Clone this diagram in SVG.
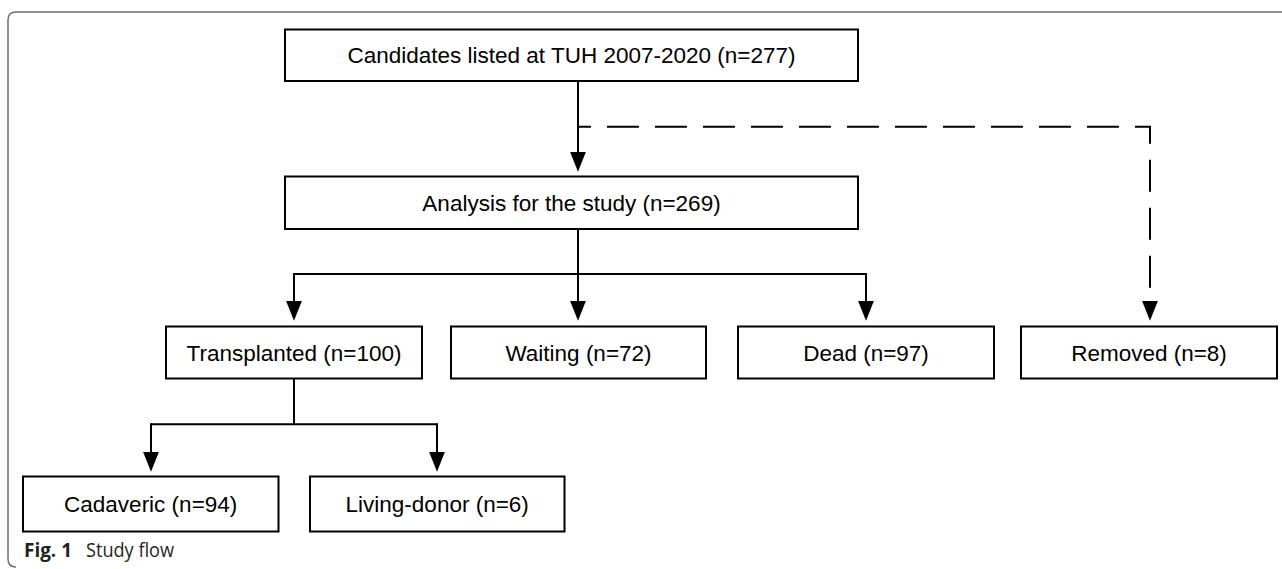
<svg xmlns="http://www.w3.org/2000/svg" width="1282" height="569" viewBox="0 0 1282 569">
<style>
.box{fill:#fff;stroke:#000;stroke-width:2}
.lbl{font-family:"Liberation Sans",Arial,sans-serif;font-size:22.5px;fill:#000;text-anchor:middle}
.ln{fill:none;stroke:#000;stroke-width:2}
.dash{fill:none;stroke:#000;stroke-width:2;stroke-dasharray:32 16;stroke-dashoffset:19}
.cap{font-family:"Open Sans","Noto Sans",sans-serif;font-size:20px;fill:#231f20}
</style>
<defs>
<marker id="ah" viewBox="0 0 20 16" markerWidth="20" markerHeight="16" refX="10" refY="8" orient="auto" markerUnits="userSpaceOnUse">
<path d="M0,0 L20,8 L0,16 z" fill="#000"/>
</marker>
</defs>
<rect width="1282" height="569" fill="#fff"/>
<path d="M1282,12 H16 Q8,12 8,20 V559 Q8,567 16,567" fill="none" stroke="#6f6f6f" stroke-width="1.5"/>
<g id="connectors">
<path class="ln" d="M578,81 V161.7" marker-end="url(#ah)"/>
<path class="dash" d="M578,126.7 H1150 V310.7" marker-end="url(#ah)"/>
<path class="ln" d="M578,229 V274"/>
<path class="ln" d="M294,274 H866"/>
<path class="ln" d="M294,273 V310.7" marker-end="url(#ah)"/>
<path class="ln" d="M578,273 V310.7" marker-end="url(#ah)"/>
<path class="ln" d="M866,273 V310.7" marker-end="url(#ah)"/>
<path class="ln" d="M294,378.5 V424.3"/>
<path class="ln" d="M151,424.3 H437"/>
<path class="ln" d="M151,423.3 V461.7" marker-end="url(#ah)"/>
<path class="ln" d="M437,423.3 V461.7" marker-end="url(#ah)"/>
</g>
<g id="n-candidates"><rect class="box" x="285" y="29.5" width="573" height="51.5"/><text class="lbl" x="571.5" y="63.3">Candidates listed at TUH 2007-2020 (n=277)</text></g>
<g id="n-analysis"><rect class="box" x="285" y="176.5" width="573" height="52.5"/><text class="lbl" x="571.5" y="210.8">Analysis for the study (n=269)</text></g>
<g id="n-transplanted"><rect class="box" x="166" y="326.5" width="256" height="52"/><text class="lbl" x="294" y="360.5">Transplanted (n=100)</text></g>
<g id="n-waiting"><rect class="box" x="451" y="326.5" width="255" height="52"/><text class="lbl" x="578.5" y="360.5">Waiting (n=72)</text></g>
<g id="n-dead"><rect class="box" x="738" y="326.5" width="256" height="52"/><text class="lbl" x="866" y="360.5">Dead (n=97)</text></g>
<g id="n-removed"><rect class="box" x="1021" y="326.5" width="256" height="52"/><text class="lbl" x="1149" y="360.5">Removed (n=8)</text></g>
<g id="n-cadaveric"><rect class="box" x="23" y="476.5" width="255.5" height="55"/><text class="lbl" x="150.7" y="512">Cadaveric (n=94)</text></g>
<g id="n-living"><rect class="box" x="310" y="476.5" width="254.5" height="55"/><text class="lbl" x="437.2" y="512">Living-donor (n=6)</text></g>
<g id="caption"><text class="cap" x="24" y="557"><tspan font-weight="bold" textLength="48" lengthAdjust="spacingAndGlyphs">Fig. 1</tspan><tspan x="86" textLength="88" lengthAdjust="spacingAndGlyphs">Study flow</tspan></text></g>
</svg>
